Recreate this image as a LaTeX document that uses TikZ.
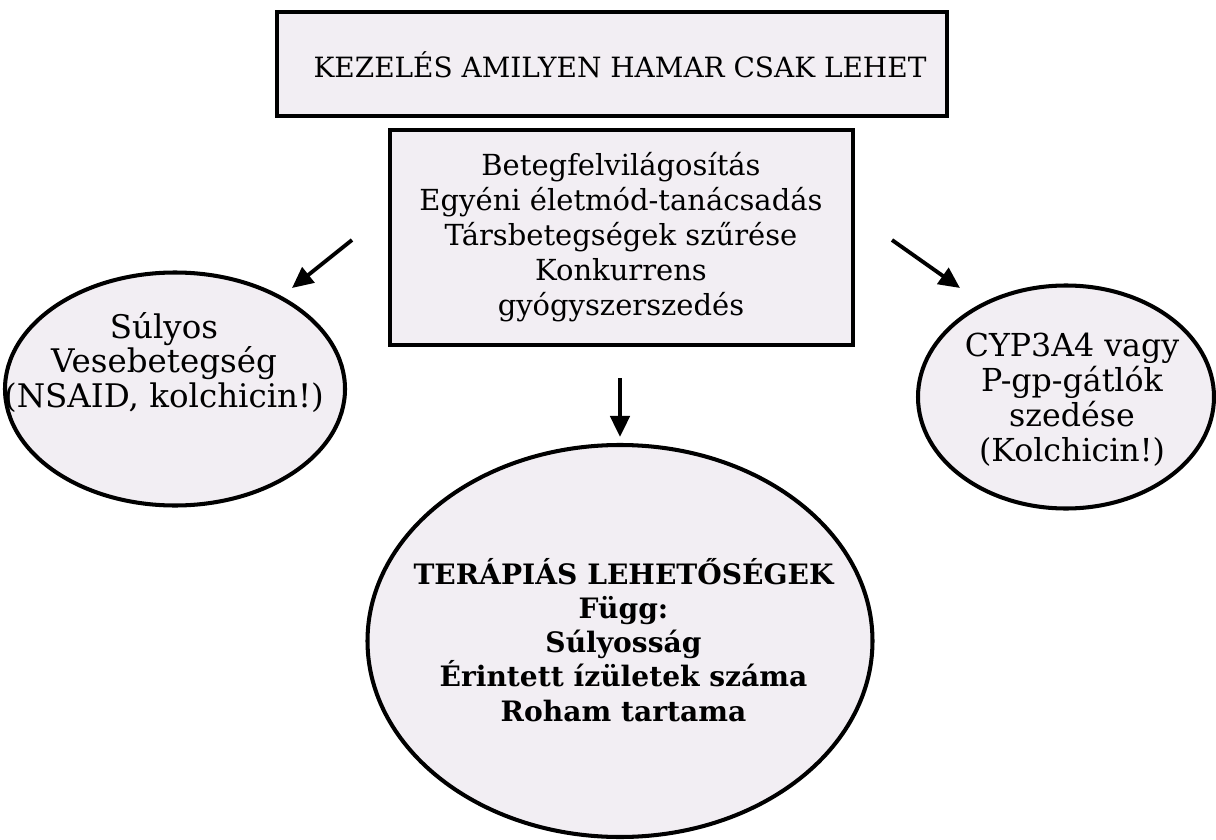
\documentclass[tikz,border=0pt]{standalone}
\usepackage{fontspec}
\setmainfont{DejaVu Serif}
\usepackage{tikz}
\usetikzlibrary{arrows.meta, positioning, shapes.geometric}
\definecolor{cFill}{HTML}{F2EEF3}
\definecolor{cLine}{HTML}{000000}

\begin{document}
\begin{tikzpicture}[
    >=Latex,
    arrow/.style={-{Triangle[length=12pt,width=11pt]}, line width=2.2pt},
    box/.style={draw=cLine, fill=cFill, line width=2.3pt, align=center, inner sep=0pt},
    oval/.style={draw=cLine, fill=cFill, line width=2.3pt, ellipse, inner sep=0pt},
    txt/.style={align=center, font=\fontsize{16.5pt}{19.9pt}\selectfont},
    boldtxt/.style={align=center, font=\fontsize{16pt}{19.4pt}\selectfont\bfseries},
]
\useasboundingbox (0,0) rectangle (24.32,-16.8);

% ---------- Boxes ----------
\node[box, minimum width=13.4cm, minimum height=2.08cm] (urgent) at (12.24,-1.28) {};
\node[txt, font=\fontsize{15.9pt}{19.9pt}\selectfont] (urgenttext) at (12.4,-1.3) {KEZELÉS AMILYEN HAMAR CSAK LEHET};

\node[box, minimum width=9.26cm, minimum height=4.3cm] (info) at (12.43,-4.75) {};
\node[txt] (infotext) at (12.42,-4.75) {Betegfelvilágosítás\\Egyéni életmód-tanácsadás\\Társbetegségek szűrése\\Konkurrens\\gyógyszerszedés};

% ---------- Ellipses ----------
\node[oval, minimum width=6.8cm, minimum height=4.66cm] (kidney) at (3.5,-7.78) {};
\node[txt, font=\fontsize{18.5pt}{19.9pt}\selectfont] (kidneytext) at (3.28,-7.25) {Súlyos\\Vesebetegség\\(NSAID, kolchicin!)};

\node[oval, minimum width=5.92cm, minimum height=4.46cm] (inhib) at (21.32,-7.94) {};
\node[txt, font=\fontsize{18pt}{19.9pt}\selectfont] (inhibtext) at (21.44,-8.0) {CYP3A4 vagy\\P-gp-gátlók\\szedése\\(Kolchicin!)};

\node[oval, minimum width=10.1cm, minimum height=7.84cm] (therapy) at (12.4,-12.82) {};
\node[boldtxt] (therapytext) at (12.47,-12.8) {TERÁPIÁS LEHETŐSÉGEK\\Függ:\\Súlyosság\\Érintett ízületek száma\\Roham tartama};

% ---------- Arrows ----------
\coordinate (lfrom) at (7.04,-4.8);
\coordinate (lto)   at (5.84,-5.76);
\coordinate (rfrom) at (17.84,-4.8);
\coordinate (rto)   at (19.2,-5.76);
\coordinate (dfrom) at (12.4,-7.56);
\coordinate (dto)   at (12.4,-8.74);

\draw[arrow] (lfrom) -- (lto);
\draw[arrow] (rfrom) -- (rto);
\draw[arrow] (dfrom) -- (dto);

\end{tikzpicture}
\end{document}
